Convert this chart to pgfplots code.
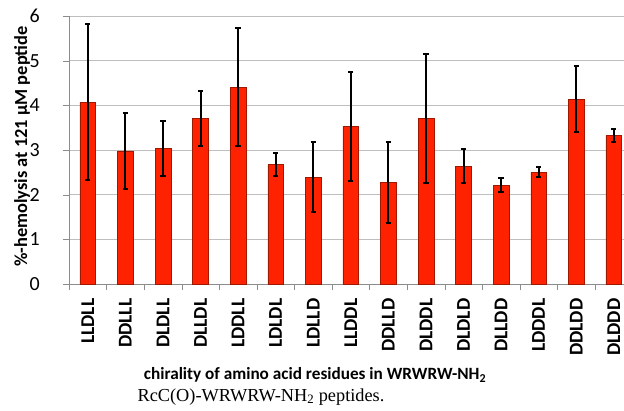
\documentclass[border=0pt]{standalone}
\usepackage{fontspec}
\setmainfont{Carlito}
\newfontfamily\tnr{Liberation Serif}
\usepackage{pgfplots}
\pgfplotsset{compat=1.18}
\definecolor{barred}{HTML}{FF2200}
\definecolor{baredge}{HTML}{A01800}
\definecolor{gridc}{HTML}{BEBEBE}
\definecolor{axc}{HTML}{8C8C8C}

\pgfplotstableread{
x y e
0 4.07 1.74
1 2.98 0.85
2 3.03 0.62
3 3.70 0.62
4 4.41 1.33
5 2.67 0.26
6 2.39 0.78
7 3.53 1.22
8 2.27 0.90
9 3.70 1.44
10 2.64 0.38
11 2.21 0.16
12 2.50 0.11
13 4.14 0.74
14 3.32 0.15
}\hemo

\begin{document}
\begin{tikzpicture}
\useasboundingbox (-69pt,-126pt) rectangle (555pt,284pt);
\begin{axis}[at={(0,0)},anchor=south west,scale only axis,width=563.6pt,height=268pt,
ymin=0,ymax=6,ytick={0,...,6},xmin=-0.5,xmax=14.5,
xtick={0,...,14},
xticklabels={LLDLL,DDLLL,DLDLL,DLLDL,LDDLL,LDLDL,LDLLD,LLDDL,DDLLD,DLDDL,DLDLD,DLLDD,LDDDL,DDLDD,DLDDD},
x tick label style={rotate=90,anchor=east,font=\fontsize{19.5}{20}\selectfont\bfseries},
xticklabel shift=5pt,
y tick label style={font=\fontsize{20}{20}\selectfont,anchor=east,inner sep=0pt},
yticklabel shift=23pt,
/pgf/number format/assume math mode=true,
axis x line*=bottom,axis y line*=left,
axis line style={axc,-},
xtick style={draw=none},
ytick style={axc},tick align=outside,major tick length=6pt,
extra x ticks={-0.5,0.5,...,14.5},extra x tick labels={},
extra x tick style={xtick style={draw=axc},major tick length=6pt,grid=none},
ymajorgrids,grid style={gridc,line width=0.8pt},
ybar,bar width=15.7pt,
]
\addplot[fill=barred,draw=baredge,line width=0.5pt,
  error bars/.cd,y dir=both,y explicit,
  error bar style={black,line width=2pt},
  error mark options={rotate=90,mark size=2.6pt,line width=2pt,black}]
  table[x=x,y=y,y error=e]{\hemo};
\end{axis}
\node[font=\fontsize{18.4}{19}\selectfont\bfseries,rotate=90] at (-47pt,137.5pt) {\%-hemolysis at 121 µM peptide};
\node[font=\fontsize{17.2}{19}\selectfont\bfseries] at (246pt,-91pt) {chirality of amino acid residues in WRWRW-NH\textsubscript{2}};
\node[font=\tnr\fontsize{18.3}{19}\selectfont] at (192pt,-113pt) {RcC(O)-WRWRW-NH\textsubscript{2} peptides.};
\end{tikzpicture}
\end{document}
